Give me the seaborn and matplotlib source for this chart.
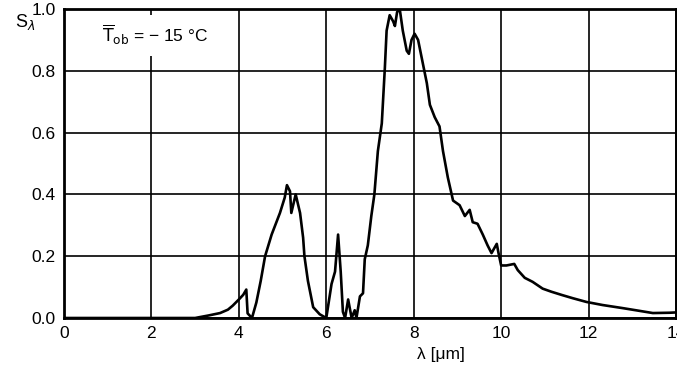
import seaborn as sns
import pandas as pd
import matplotlib
matplotlib.use("Agg")
import matplotlib.pyplot as plt

# wavelength (um) and relative spectral sensitivity
wavelength = [0.0, 3.0, 3.11, 3.3, 3.57, 3.75, 3.86, 4.0, 4.1, 4.17, 4.2, 4.3,
              4.4, 4.5, 4.6, 4.75, 4.94, 5.05, 5.1, 5.17, 5.2, 5.3, 5.4, 5.47,
              5.5, 5.58, 5.7, 5.85, 6.0, 6.12, 6.2, 6.27, 6.33, 6.38, 6.43,
              6.5, 6.58, 6.65, 6.69, 6.77, 6.84, 6.88, 6.95, 7.03, 7.1, 7.18,
              7.27, 7.34, 7.38, 7.45, 7.53, 7.57, 7.62, 7.68, 7.75, 7.84,
              7.89, 7.95, 8.02, 8.1, 8.2, 8.3, 8.37, 8.48, 8.59, 8.67, 8.78,
              8.9, 9.05, 9.17, 9.28, 9.35, 9.46, 9.58, 9.69, 9.78, 9.9, 9.94,
              10.0, 10.12, 10.3, 10.38, 10.54, 10.72, 10.95, 11.15, 11.4,
              11.64, 11.95, 12.32, 12.78, 13.17, 13.47, 13.85, 14.0]
s_lambda = [0.0, 0.0, 0.003, 0.008, 0.016, 0.027, 0.04, 0.06, 0.075, 0.092,
            0.015, 0.0, 0.05, 0.12, 0.2, 0.27, 0.34, 0.39, 0.43, 0.41, 0.34,
            0.40, 0.34, 0.26, 0.20, 0.12, 0.035, 0.012, 0.0, 0.11, 0.15,
            0.27, 0.15, 0.02, 0.0, 0.06, 0.0, 0.025, 0.0, 0.07, 0.08, 0.19,
            0.235, 0.33, 0.40, 0.54, 0.63, 0.81, 0.93, 0.98, 0.96, 0.945,
            0.99, 1.0, 0.93, 0.865, 0.855, 0.90, 0.92, 0.90, 0.83, 0.76,
            0.69, 0.65, 0.62, 0.54, 0.455, 0.38, 0.365, 0.33, 0.35, 0.31,
            0.305, 0.27, 0.235, 0.21, 0.24, 0.21, 0.17, 0.17, 0.175, 0.155,
            0.13, 0.117, 0.095, 0.085, 0.074, 0.064, 0.052, 0.042, 0.032,
            0.023, 0.016, 0.017, 0.018]

x_ticks = [0, 2, 4, 6, 8, 10, 12, 14]
y_ticks = [0.0, 0.2, 0.4, 0.6, 0.8, 1.0]

df = pd.DataFrame({"lam": wavelength, "s": s_lambda})

sns.set_theme(style="white")
plt.rcParams["font.family"] = ["Liberation Sans", "DejaVu Sans"]

fig = plt.figure(figsize=(6.77, 3.67), dpi=100)
ax = fig.add_axes([64 / 677, 1 - 318 / 367, 612 / 677, 309 / 367])

sns.lineplot(data=df, x="lam", y="s", color="black", linewidth=1.9, ax=ax)

ax.set_xlim(0, 14)
ax.set_ylim(0, 1.0)
ax.set_xticks(x_ticks)
ax.set_yticks(y_ticks)
ax.set_xticklabels([str(t) for t in x_ticks])
ax.set_yticklabels([f"{t:.1f}" for t in y_ticks])
ax.tick_params(length=0, labelsize=12.5, colors="black", pad=6)
ax.grid(True, color="black", linewidth=1.2)
ax.set_axisbelow(True)
for sp in ax.spines.values():
    sp.set_color("black")
    sp.set_linewidth(2.0)

# x label sits right of centre in the original
ax.set_xlabel("")
fig.text(441 / 677, 1 - 355 / 367, "λ [μm]", fontsize=12.5, color="black",
         va="center", ha="center")
ax.set_ylabel("")
fig.text(15 / 677, 1 - 22 / 367, r"S$_\lambda$", fontsize=13, color="black",
         va="center", ha="left")

ax.text(0.88, 0.915, r"$\overline{\mathrm{T}}_{\mathrm{ob}}$ = − 15 °C",
        fontsize=12.5, color="black", va="center", ha="left",
        bbox=dict(facecolor="white", edgecolor="none", pad=6))

fig.savefig("out.png", dpi=100)
